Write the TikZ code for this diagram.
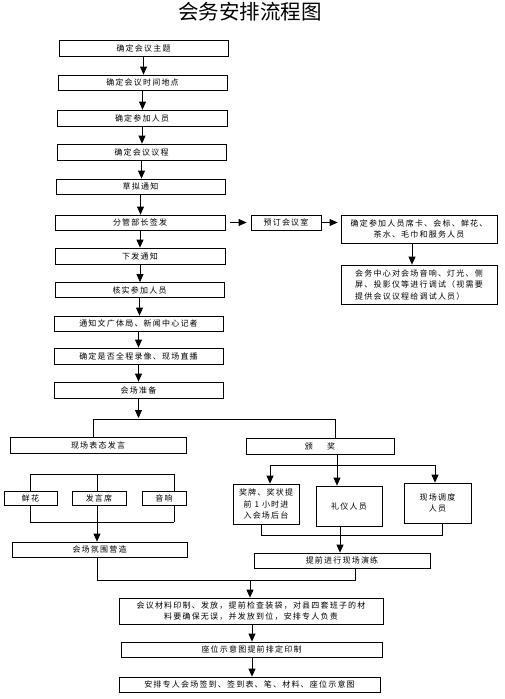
\documentclass[tikz,border=0pt]{standalone}
\usepackage{fontspec}
\setmainfont{Noto Sans CJK SC}
\newfontfamily\cjk[LetterSpace=15]{Noto Sans CJK SC}
\usetikzlibrary{arrows.meta}
\tikzset{
  box/.style={draw, line width=0.8pt, fill=white, inner sep=1pt, align=center,
    font=\cjk\fontsize{8}{11.5}\selectfont},
  arr/.style={-{Triangle[width=7pt,length=8pt]}, line width=0.8pt},
  ln/.style={line width=0.8pt}
}
\begin{document}
\begin{tikzpicture}[x=1pt,y=-1pt]
\useasboundingbox (0,0) rectangle (505,699);
\node (title) at (250,12) {\fontsize{20.5}{22}\selectfont 会务安排流程图};
% main chain
\node[box,minimum width=169pt,minimum height=16pt] (n1) at (143.5,48) {确定会议主题};
\node[box,minimum width=169pt,minimum height=15pt] (n2) at (142.5,82.5) {确定会议时间地点};
\node[box,minimum width=170pt,minimum height=16pt] (n3) at (142,118) {确定参加人员};
\node[box,minimum width=169pt,minimum height=16pt] (n4) at (141.5,152) {确定会议议程};
\node[box,minimum width=169pt,minimum height=15pt] (n5) at (140.5,186.5) {草拟通知};
\node[box,minimum width=170pt,minimum height=15pt] (n6) at (140,222.5) {分管部长签发};
\node[box,minimum width=170pt,minimum height=16pt] (n7) at (140,256) {下发通知};
\node[box,minimum width=169pt,minimum height=15pt] (n8) at (139.5,290) {核实参加人员};
\node[box,minimum width=169pt,minimum height=15pt] (n9) at (138.5,323.5) {通知文广体局、新闻中心记者};
\node[box,minimum width=169pt,minimum height=16pt] (n10) at (138.5,356) {确定是否全程录像、现场直播};
\node[box,minimum width=169pt,minimum height=16pt] (n11) at (138.5,390) {会场准备};
\foreach \a/\b in {n1/n2,n2/n3,n3/n4,n4/n5,n5/n6,n6/n7,n7/n8,n8/n9,n9/n10,n10/n11}
  \draw[arr] (\a.south) -- (\a.south |- \b.north);
% right branch
\node[box,minimum width=70pt,minimum height=15pt] (r1) at (286,222.5) {预订会议室};
\node[box,minimum width=156pt,minimum height=28pt] (r2) at (419,229) {确定参加人员席卡、会标、鲜花、\\茶水、毛巾和服务人员};
\node[box,minimum width=156pt,minimum height=39pt,align=left] (r3) at (419,284.5) {会务中心对会场音响、灯光、侧\\屏、投影仪等进行调试（视需要\\提供会议议程给调试人员）};
\draw[arr,shorten <=5pt,shorten >=4pt] (n6.east) -- (r1.west);
\draw[arr,shorten >=3pt] (r1.east) -- (r2.west |- r1.east);
\draw[arr] ([xshift=-7pt]r2.south) -- ([xshift=-7pt]r3.north);
% split
\draw[arr] (n11.south) -- (n11.south |- 0,418);
\node[box,minimum width=176pt,minimum height=16pt] (a1) at (98,445) {现场表态发言};
\node[box,minimum width=148pt,minimum height=16pt] (b1) at (320,446) {颁\hspace{1.8em}奖};
\draw[ln] (a1.north -| 93,0) -- (93,419) -- (335,419) -- (b1.north -| 335,0);
% left sub
\draw[ln] (30,474) -- (174,474);
\draw[ln] (30,522) -- (174,522);
\node[box,minimum width=53pt,minimum height=14pt] (c1) at (30.5,498) {鲜花};
\node[box,minimum width=54pt,minimum height=14pt] (c2) at (99,498) {发言席};
\node[box,minimum width=44pt,minimum height=14pt] (c3) at (164,498) {音响};
\draw[ln] (30,474) -- (c1.north -| 30,0);
\draw[ln] (97,474) -- (c2.north -| 97,0);
\draw[ln] (174,474) -- (c3.north -| 174,0);
\draw[ln] (c1.south -| 30,0) -- (30,522);
\draw[ln] (c2.south -| 97,0) -- (97,522);
\draw[ln] (c3.south -| 174,0) -- (174,522);
\node[box,minimum width=175pt,minimum height=15pt] (d1) at (99.5,549.5) {会场氛围营造};
\draw[arr] (97,522) -- (d1.north -| 97,0);
% right sub
\node[box,minimum width=66pt,minimum height=40pt] (e1) at (266,504) {奖牌、奖状提\\前 1 小时进\\入会场后台};
\node[box,minimum width=66pt,minimum height=40pt] (e2) at (349,506) {礼仪人员};
\node[box,minimum width=67pt,minimum height=40pt] (e3) at (437.5,503) {现场调度\\人员};
\draw[arr] (b1.south -| 337,0) -- (e2.north -| 337,0);
\draw[ln] (270,465) -- (435,465);
\draw[arr] (270,465) -- (e1.north -| 270,0);
\draw[arr] (435,465) -- (e3.north -| 435,0);
\node[box,minimum width=176pt,minimum height=15pt] (f1) at (342,560.5) {提前进行现场演练};
\draw[ln] (e1.south -| 261,0) -- (261,535) -- (442,535) -- (e3.south -| 442,0);
\draw[ln] (e2.south -| 340,0) -- (340,535);
\draw[arr] (340,535) -- (f1.north -| 340,0);
% merge
\node[box,minimum width=264pt,minimum height=26pt] (g1) at (251,611) {会议材料印制、发放，提前检查装袋，对县四套班子的材\\料要确保无误，并发放到位，安排专人负责};
\node[box,minimum width=261pt,minimum height=15pt] (g2) at (251.5,649.5) {座位示意图提前排定印制};
\node[box,minimum width=261pt,minimum height=15pt] (g3) at (249.5,684.5) {安排专人会场签到、签到表、笔、材料、座位示意图};
\draw[ln] (d1.south -| 97,0) -- (97,580) -- (355,580) -- (f1.south -| 355,0);
\draw[arr] (250,580) -- (g1.north -| 250,0);
\draw[arr] (g1.south -| 252,0) -- (g2.north -| 252,0);
\draw[arr] (g2.south -| 252,0) -- (g3.north -| 252,0);
\end{tikzpicture}
\end{document}
